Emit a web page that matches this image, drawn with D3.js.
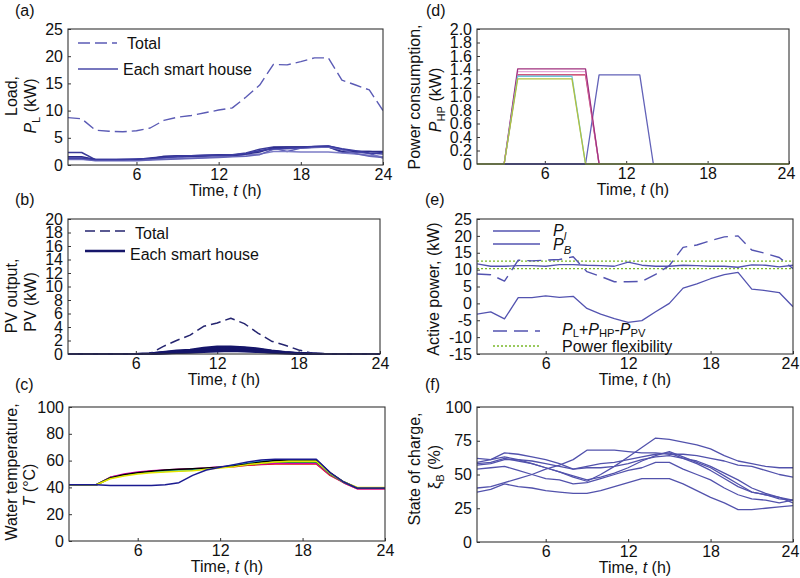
<!DOCTYPE html>
<html><head><meta charset="utf-8">
<script src="https://cdn.jsdelivr.net/npm/d3@7"></script>
<style>
body{margin:0;background:#fff}
svg{display:block}
text{font-family:"Liberation Sans",Arial,Helvetica,sans-serif;fill:#111}
</style>
</head><body>
<svg id="chart" width="800" height="578"></svg>
<script>
// ---------------- DATA ----------------
const hours = [1,2,3,4,5,6,7,8,9,10,11,12,13,14,15,16,17,18,19,20,21,22,23,24];
const xTicks = [6,12,18,24];

// (a) Load
const loadTotal = [8.7,8.5,6.4,6.2,6.1,6.3,6.8,8.2,8.8,9.1,9.6,10.1,10.5,12.5,14.7,18.5,18.4,19.0,19.7,19.7,15.6,14.7,13.8,10.0];
const loadHouse1 = [2.3,2.3,1.0,1.0,1.0,1.0,1.1,1.6,1.7,1.7,1.8,1.9,1.9,2.2,2.9,3.3,3.3,3.3,3.4,3.5,2.9,2.5,2.5,2.3];
const loadHouse2 = [1.2,1.2,0.9,0.9,0.9,0.9,1.0,1.3,1.4,1.5,1.6,1.7,1.8,2.1,2.6,3.1,2.5,3.1,3.3,3.4,2.3,2.4,2.1,1.3];
const loadHouse3 = [1.0,1.0,0.9,0.9,0.9,1.0,1.0,1.1,1.2,1.3,1.4,1.5,1.6,1.9,2.0,2.5,2.5,2.4,2.4,2.4,2.2,2.0,1.8,1.5];
const loadHouse4 = [1.5,1.5,1.0,0.9,1.0,1.0,1.3,1.5,1.6,1.6,1.7,1.8,1.7,2.0,2.4,3.2,3.3,3.3,3.3,3.3,2.5,2.5,2.5,2.5];
const loadHouse5 = [1.1,1.1,0.8,0.8,0.8,0.8,0.9,1.0,1.1,1.2,1.3,1.4,1.5,1.6,1.9,2.9,3.0,3.1,3.2,3.3,2.8,2.1,1.6,1.4];
const loadHouse6 = [1.3,1.3,1.0,1.0,1.0,1.1,1.2,1.4,1.6,1.7,1.8,1.8,1.8,2.1,2.6,3.0,3.1,3.2,3.4,3.5,3.0,2.6,2.2,2.0];
const loadYTicks = [0,5,10,15,20,25];

// (b) PV output
const pvTotal = [0,0,0,0,0,0,0,1.1,2.0,2.8,4.1,4.6,5.3,4.5,3.1,1.9,1.3,0.6,0.1,0,0,0,0,0];
const pvHouse1 = [0,0,0,0,0,0,0.05,0.3,0.5,0.6,0.9,1.1,1.1,1.0,0.8,0.5,0.3,0.15,0.05,0,0,0,0,0];
const pvHouse2 = [0,0,0,0,0,0,0.05,0.25,0.4,0.5,0.8,0.95,1.0,0.9,0.7,0.45,0.25,0.1,0.03,0,0,0,0,0];
const pvHouse3 = [0,0,0,0,0,0,0.04,0.2,0.35,0.45,0.7,0.85,0.9,0.8,0.6,0.4,0.2,0.1,0.02,0,0,0,0,0];
const pvHouse4 = [0,0,0,0,0,0,0.03,0.15,0.3,0.4,0.6,0.75,0.8,0.7,0.5,0.35,0.2,0.08,0.02,0,0,0,0,0];
const pvHouse5 = [0,0,0,0,0,0,0.02,0.1,0.2,0.3,0.45,0.55,0.6,0.55,0.4,0.25,0.15,0.05,0.01,0,0,0,0,0];
const pvHouse6 = [0,0,0,0,0,0,0.02,0.08,0.15,0.2,0.3,0.4,0.45,0.4,0.3,0.2,0.1,0.04,0.01,0,0,0,0,0];
const pvYTicks = [0,2,4,6,8,10,12,14,16,18,20];

// (c) Water temperature
const tempBlack   = [42,42,42,47,49.5,51,52,53,53.5,54,54.5,55,56,57.5,59,60,60.5,60.5,60.5,51,44,39.5,39.5,39.5];
const tempYellow  = [42,42,42,46.5,48.5,50,51,51.5,52,52.5,53.5,54.5,55.5,57,58,59,59.5,59.5,59.5,50.5,44,40,40,40];
const tempMagenta = [42,42,42,47.5,50,51.5,52.5,53,53.5,54,54.5,55.5,56,57,57.5,58,58,58,58,49.5,43.5,39,39,39];
const tempGreen   = [42,42,42,47,49,50.5,51.5,52,52.5,53,54,55,56,57,58,59,59,59,59,50,44,39.5,39.5,39.5];
const tempRed     = [42,42,42,47.5,49.5,51,52,52.5,53,53.5,54,55,55.5,56.5,57,57.5,57.5,57.5,57.5,49,43.5,39,39,39];
const tempCyan    = [42,42,42,47,49,50.5,51.5,52,52.5,53,54,55,56.5,58,59.5,60,60,60,60,50.5,44,39.5,39.5,39.5];
const tempBlue    = [42,42,42,41.5,41.5,41.5,41.5,42,43.5,49,53,55,57,59,60.5,61,61,61,61,51,44,39.5,39.5,39.5];
const tempYTicks = [0,20,40,60,80,100];

// (d) Heat-pump power consumption
const hpBlue    = [0,0,0,0,0,0,0,0,0,1.32,1.32,1.32,1.32,0,0,0,0,0,0,0,0,0,0,0];
const hpRed     = [0,0,0,1.32,1.32,1.32,1.32,1.32,1.32,0,0,0,0,0,0,0,0,0,0,0,0,0,0,0];
const hpPink    = [0,0,0,1.37,1.37,1.37,1.37,1.37,1.37,0,0,0,0,0,0,0,0,0,0,0,0,0,0,0];
const hpMagenta = [0,0,0,1.41,1.41,1.41,1.41,1.41,1.41,0,0,0,0,0,0,0,0,0,0,0,0,0,0,0];
const hpCyan    = [0,0,0,1.30,1.30,1.30,1.30,1.30,0,0,0,0,0,0,0,0,0,0,0,0,0,0,0,0];
const hpYellow  = [0,0,0,1.26,1.26,1.26,1.26,1.26,0,0,0,0,0,0,0,0,0,0,0,0,0,0,0,0];
const hpNavy    = [0,0,0,0,0,0,0,0,0,0,0,0,0,0,0,0,0,0,0,0,0,0,0,0];
const hpYTicks = [0,0.2,0.4,0.6,0.8,1.0,1.2,1.4,1.6,1.8,2.0];

// (e) Active power
const powerPl  = [11.7,11.0,11.0,11.2,11.2,11.0,11.5,11.5,11.3,11.2,11.0,12.2,11.3,11.0,11.0,11.3,11.2,11.0,11.0,10.7,11.4,11.3,10.8,11.3];
const powerPB  = [-3.2,-2.5,-4.6,1.7,1.7,2.2,1.8,2.1,-1.5,-3.2,-4.5,-5.6,-5.1,-2.5,0,4.5,5.8,7.3,8.5,9.2,4.2,3.8,3.2,-1.0];
const powerNet = [8.7,8.5,6.6,12.8,12.6,12.8,13.0,13.8,9.4,8.0,6.4,6.4,6.5,8.6,11.2,16.6,17.3,18.6,19.7,20.0,15.8,14.8,13.6,10.3];
const flexUpper = [12.5,12.5];
const flexLower = [10.3,10.3];
const flexHours = [1,24];
const powerYTicks = [-15,-10,-5,0,5,10,15,20,25];

// (f) State of charge
const soc1 = [40,41,44,47,50,54,57,61,68,68,68,67,66,66,65,65,64,62,60,57,56,53,50,48];
const soc2 = [59,61,63,61,58,55,52,48,45,50,56,63,70,77,76,74,72,69,64,60,58,56,55,55];
const soc3 = [62,61,66,65,63,61,58,54,56,58,59,61,63,65,66,62,58,53,47,41,37,35,32,31];
const soc4 = [58,59,62,60,58,55,52,49,46,48,51,55,60,64,67,63,59,55,49,43,37,35,33,31];
const soc5 = [57,58,61,61,60,58,56,54,55,55,56,58,61,63,64,62,60,56,51,46,40,36,33,29];
const soc6 = [54,55,56,53,50,47,46,43,44,47,50,53,55,59,59,54,50,46,40,35,32,31,29,31];
const soc7 = [37,39,43,41,40,38,37,36,36,38,41,44,47,47,47,43,38,33,29,24,24,25,26,27];
const socYTicks = [0,25,50,75,100];

// ---------------- DRAWING ----------------
const svg = d3.select("#chart");
const FS = 16;

function panel(o){
  const xs = d3.scaleLinear().domain([1,24]).range([o.x0,o.x1]);
  const ys = d3.scaleLinear().domain(o.ydom).range([o.y1,o.y0]);
  const g = svg.append("g");
  const clipId = "clip"+o.id;
  svg.append("clipPath").attr("id",clipId).append("rect")
    .attr("x",o.x0).attr("y",o.y0-1).attr("width",o.x1-o.x0).attr("height",o.y1-o.y0+2);
  const ax = g.append("g").attr("transform",`translate(0,${o.y1})`)
    .call(d3.axisBottom(xs).tickValues(xTicks).tickSizeInner(-3).tickSizeOuter(0).tickPadding(4).tickFormat(d=>String(d)));
  const ay = g.append("g").attr("transform",`translate(${o.x0},0)`)
    .call(d3.axisLeft(ys).tickValues(o.yticks).tickSizeInner(-3).tickSizeOuter(0).tickPadding(5).tickFormat(o.yfmt||(d=>String(d))));
  [ax,ay].forEach(a=>{
    a.select(".domain").remove();
    a.selectAll("text").attr("font-size",FS).attr("fill","#111").attr("font-family","Liberation Sans, Arial, sans-serif");
    a.selectAll("line").attr("stroke","#333");
  });
  if(o.x1 > 785) ax.selectAll(".tick text").filter(d=>d===24).attr("dx",-3);
  const plot = g.append("g").attr("clip-path",`url(#${clipId})`);
  g.append("rect").attr("x",o.x0).attr("y",o.y0).attr("width",o.x1-o.x0).attr("height",o.y1-o.y0)
    .attr("fill","none").attr("stroke","#333").attr("stroke-width",1.1);
  const xl = g.append("text").attr("x",(o.x0+o.x1)/2).attr("y",o.y1+31).attr("text-anchor","middle").attr("font-size",FS);
  xl.append("tspan").text("Time, ");
  xl.append("tspan").attr("font-style","italic").text("t");
  xl.append("tspan").text(" (h)");
  g.append("text").attr("x",o.lx).attr("y",o.ly).attr("font-size",FS).text(o.label);
  return {xs,ys,g,plot};
}

function drawLine(p, xvals, yvals, color, width, dash){
  const data = xvals.map((h,i)=>[h,yvals[i]]);
  p.plot.append("path").datum(data)
    .attr("d", d3.line().x(d=>p.xs(d[0])).y(d=>p.ys(d[1])))
    .attr("fill","none").attr("stroke",color).attr("stroke-width",width)
    .attr("stroke-dasharray",dash||null).attr("stroke-linejoin","round");
}

function rich(sel, parts, subShift){
  const sh = subShift||4;
  let shifted = false;
  parts.forEach(pt=>{
    const ts = sel.append("tspan").text(pt.t);
    if(pt.i) ts.attr("font-style","italic");
    if(pt.sub){
      ts.attr("font-size",FS*0.7);
      if(!shifted){ ts.attr("dy",sh); shifted = true; }
    } else if(shifted){ ts.attr("dy",-sh); shifted = false; }
  });
  return sel;
}

function yLabel(x, y, parts){
  const t = svg.append("text").attr("transform",`translate(${x},${y}) rotate(-90)`)
    .attr("text-anchor","middle").attr("font-size",FS);
  rich(t, parts);
}

function legendLine(x1,x2,y,color,width,dash){
  svg.append("line").attr("x1",x1).attr("x2",x2).attr("y1",y).attr("y2",y)
    .attr("stroke",color).attr("stroke-width",width).attr("stroke-dasharray",dash||null);
}
function legendText(x,y,parts,subShift){
  const t = svg.append("text").attr("x",x).attr("y",y).attr("font-size",FS);
  rich(t, parts, subShift);
}

// ---- (a) ----
const pa = panel({id:"a",x0:68,x1:383,y0:29,y1:165,ydom:[0,25],yticks:loadYTicks,label:"(a)",lx:15,ly:16});
const houseCols = ["#3a3a98","#5a5ab5","#7c7cc6","#2c2c8a","#6464b8","#3b3ba0"];
[loadHouse1,loadHouse2,loadHouse3,loadHouse4,loadHouse5,loadHouse6].forEach((s,i)=>drawLine(pa,hours,s,houseCols[i],1.5));
drawLine(pa,hours,loadTotal,"#5b5bb5",1.4,"12,5");
legendLine(78,117,43,"#5b5bb5",1.4,"12,5");
legendText(127,49,[{t:"Total"}]);
legendLine(78,118,69,"#4a4aa8",1.4);
legendText(123,75,[{t:"Each smart house"}]);
yLabel(17,96,[{t:"Load,"}]);
yLabel(36,106,[{t:"P",i:true},{t:"L",sub:true},{t:" (kW)"}]);

// ---- (b) ----
const pb = panel({id:"b",x0:68,x1:380,y0:219,y1:354,ydom:[0,20],yticks:pvYTicks,label:"(b)",lx:15,ly:205});
[pvHouse1,pvHouse2,pvHouse3,pvHouse4,pvHouse5,pvHouse6].forEach(s=>drawLine(pb,hours,s,"#16166a",2.2));
drawLine(pb,hours,pvTotal,"#24246f",1.5,"10,5");
legendLine(85,125,231,"#24246f",1.5,"10,5");
legendText(135,239,[{t:"Total"}]);
legendLine(85,125,251,"#16166a",2.4);
legendText(130,260,[{t:"Each smart house"}]);
yLabel(17,296,[{t:"PV output,"}]);
yLabel(36,302,[{t:"PV (kW)"}]);

// ---- (c) ----
const pc = panel({id:"c",x0:69,x1:385,y0:407,y1:541,ydom:[0,100],yticks:tempYTicks,label:"(c)",lx:15,ly:390});
drawLine(pc,hours,tempRed,"#e01010",1.5);
drawLine(pc,hours,tempMagenta,"#d400b0",1.5);
drawLine(pc,hours,tempGreen,"#00a000",1.5);
drawLine(pc,hours,tempCyan,"#20c0e0",1.5);
drawLine(pc,hours,tempBlack,"#000000",1.5);
drawLine(pc,hours,tempYellow,"#e6e600",1.5);
drawLine(pc,hours,tempBlue,"#1a1a90",1.5);
yLabel(17,472,[{t:"Water temperature,"}]);
yLabel(35,485,[{t:"T",i:true},{t:" (°C)"}]);

// ---- (d) ----
const pd = panel({id:"d",x0:477,x1:789,y0:29,y1:164,ydom:[0,2],yticks:hpYTicks,label:"(d)",lx:426,ly:16,
  yfmt:d=>d===0?"0":d.toFixed(1)});
drawLine(pd,hours,hpNavy,"#20208a",1.5);
drawLine(pd,hours,hpBlue,"#6262b8",1.3);
drawLine(pd,hours,hpRed,"#c02050",1.3);
drawLine(pd,hours,hpPink,"#e8a8d8",1.3);
drawLine(pd,hours,hpMagenta,"#a0307e",1.3);
drawLine(pd,hours,hpCyan,"#70c8dc",1.3);
drawLine(pd,hours,hpYellow,"#b0c040",1.3);
yLabel(420,97,[{t:"Power consumption,"}]);
yLabel(441,100,[{t:"P",i:true},{t:"HP",sub:true},{t:" (kW)"}]);

// ---- (e) ----
const pe = panel({id:"e",x0:477,x1:793,y0:219,y1:354,ydom:[-15,25],yticks:powerYTicks,label:"(e)",lx:425,ly:205});
drawLine(pe,flexHours,flexUpper,"#7ab828",1.3,"2,2");
drawLine(pe,flexHours,flexLower,"#7ab828",1.3,"2,2");
drawLine(pe,hours,powerPl,"#5353b0",1.3);
drawLine(pe,hours,powerPB,"#5353b0",1.3);
drawLine(pe,hours,powerNet,"#5353b0",1.4,"14,7");
legendLine(493,540,231,"#5353b0",1.3);
legendText(553,236,[{t:"P",i:true},{t:"l",i:true,sub:true}]);
legendLine(493,540,244,"#5353b0",1.3);
legendText(553,250,[{t:"P",i:true},{t:"B",i:true,sub:true}]);
legendLine(493,540,331,"#5353b0",1.4,"14,7");
legendText(562,335,[{t:"P",i:true},{t:"L",sub:true},{t:"+"},{t:"P",i:true},{t:"HP",sub:true},{t:"-"},{t:"P",i:true},{t:"PV",sub:true}],2);
legendLine(493,540,346,"#7ab828",1.3,"2,2");
legendText(562,352,[{t:"Power flexibility"}]);
yLabel(439,289,[{t:"Active power, (kW)"}]);

// ---- (f) ----
const pf = panel({id:"f",x0:477,x1:793,y0:407,y1:542,ydom:[0,100],yticks:socYTicks,label:"(f)",lx:425,ly:390});
[soc1,soc2,soc3,soc4,soc5,soc6,soc7].forEach(s=>drawLine(pf,hours,s,"#5252ac",1.3));
yLabel(420,469,[{t:"State of charge,"}]);
yLabel(440,467,[{t:"ξ"},{t:"B",sub:true},{t:" (%)"}]);
</script>
</body></html>
